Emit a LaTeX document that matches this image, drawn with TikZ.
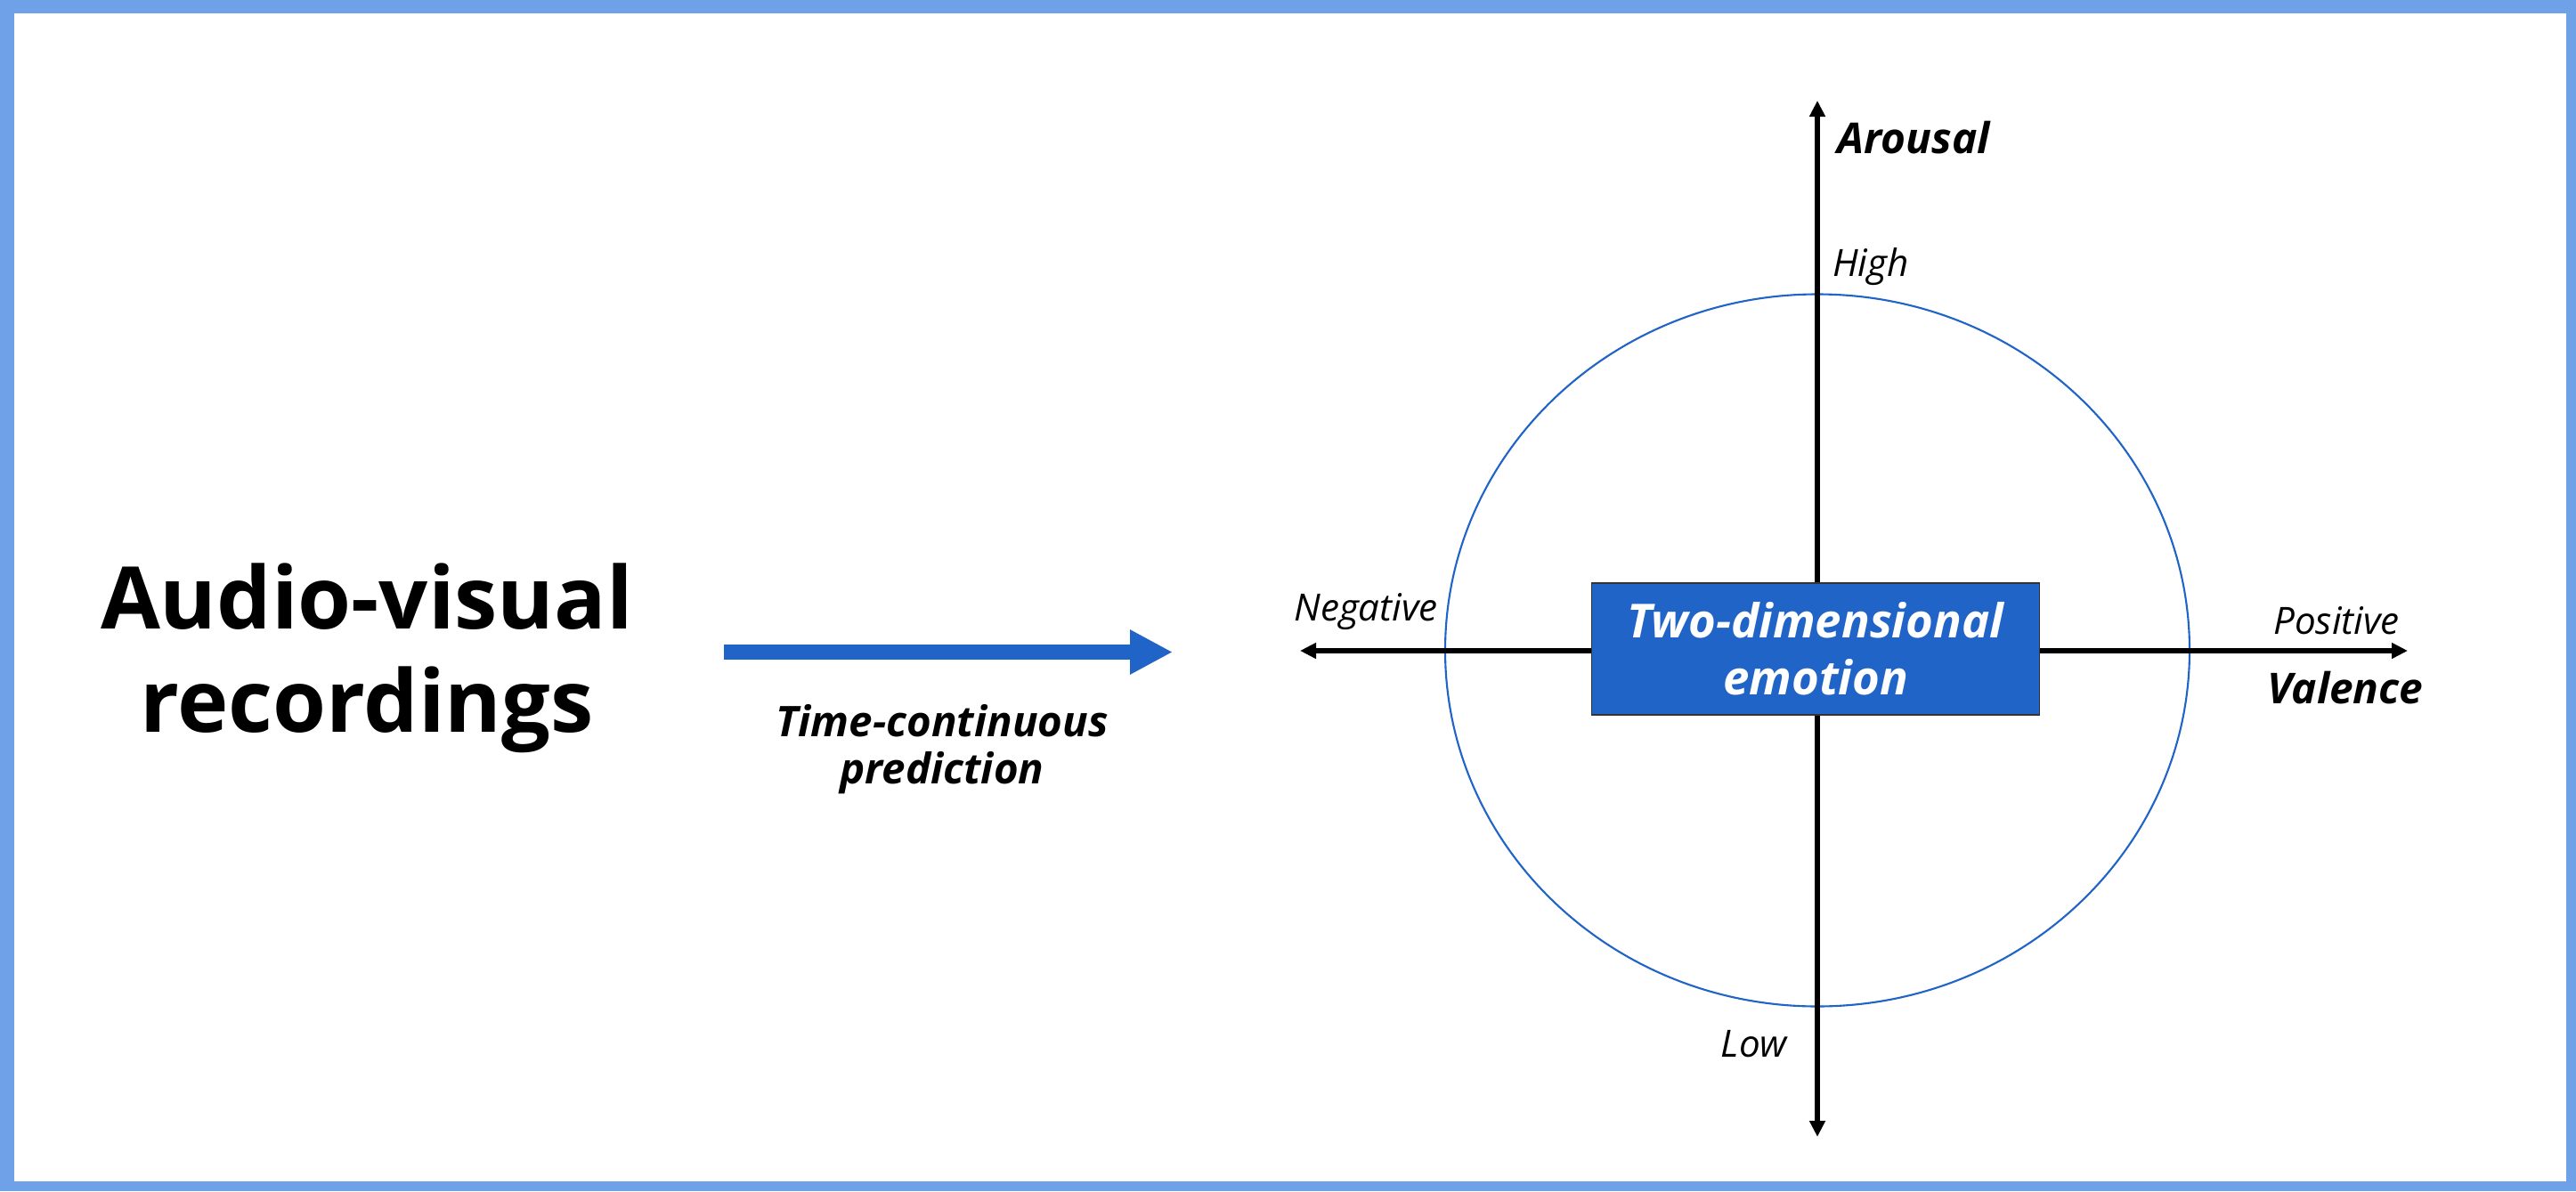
\documentclass[tikz,border=0pt]{standalone}
\usepackage{fontspec}
\setmainfont{Open Sans}
\usetikzlibrary{arrows.meta}
\definecolor{frameblue}{HTML}{6EA1E8}
\definecolor{emoblue}{HTML}{2064C8}
\tikzset{
  axis/.style={line width=1.6pt, draw=black, -{Triangle[length=0.18cm, width=0.17cm]}},
  flow/.style={line width=0.17cm, draw=emoblue, -{Triangle[length=0.48cm, width=0.47cm]}},
  circumplex/.style={draw=emoblue, line width=0.6pt},
  emobox/.style={fill=emoblue, draw=black!80, line width=0.5pt, minimum width=5.03cm, minimum height=1.48cm,
    text=white, align=center, font=\fontsize{15}{18.2}\selectfont\bfseries\itshape},
  title/.style={align=center, anchor=base, font=\fontsize{27.6}{33}\selectfont\bfseries},
  caption/.style={align=center, anchor=base, font=\fontsize{13.5}{15}\selectfont\bfseries\itshape},
  axisname/.style={anchor=base, font=\fontsize{13.6}{16}\selectfont\bfseries\itshape},
  polelabel/.style={anchor=base, font=\fontsize{12}{14}\selectfont\itshape},
}
\begin{document}
\begin{tikzpicture}
\useasboundingbox (0,0) rectangle (28.93,13.38);
\fill[frameblue] (0,0) rectangle (28.93,13.38);
\fill[white] (0.16,0.11) rectangle (28.82,13.23);
\node[title] (recordings) at (4.12,5.16) {Audio-visual\\recordings};
\coordinate (flowstart) at (8.13,6.055);
\coordinate (flowend) at (13.17,6.055);
\draw[flow] (flowstart) -- (flowend);
\node[caption] (prediction) at (10.58,4.58) {Time-continuous\\prediction};
\draw[circumplex] (20.41,6.075) ellipse (4.18cm and 4.00cm);
\coordinate (vneg) at (14.60,6.07);
\coordinate (vpos) at (27.04,6.07);
\coordinate (alow) at (20.41,0.61);
\coordinate (ahigh) at (20.41,12.25);
\coordinate (origin) at (20.41,6.07);
\draw[axis] (origin) -- (vneg);
\draw[axis] (origin) -- (vpos);
\draw[axis] (origin) -- (alow);
\draw[axis] (origin) -- (ahigh);
\node[emobox] (emotion) at (20.39,6.09) {Two-dimensional\\emotion};
\node[axisname] (arousal) at (21.49,11.66) {Arousal};
\node[axisname] (valence) at (26.34,5.48) {Valence};
\node[polelabel] (high) at (21.01,10.28) {High};
\node[polelabel] (low) at (19.70,1.51) {Low};
\node[polelabel] (negative) at (15.34,6.41) {Negative};
\node[polelabel] (positive) at (26.24,6.26) {Positive};
\end{tikzpicture}
\end{document}
